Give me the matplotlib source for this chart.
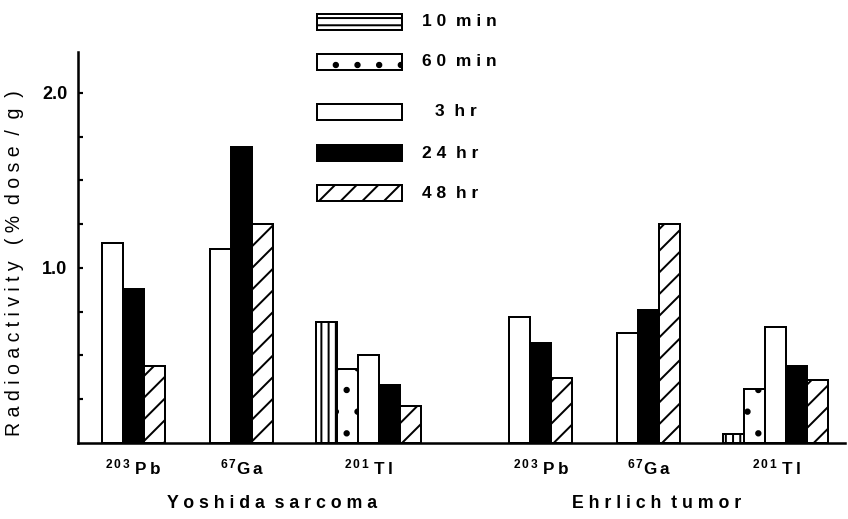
import numpy as np
import matplotlib
matplotlib.use("Agg")
import matplotlib.pyplot as plt
from matplotlib.patches import Rectangle

# ---- data ----
times = ["10 min", "60 min", "3 hr", "24 hr", "48 hr"]
groups = [r"$\mathrm{^{2\,0\,3}\;P\,b}$", r"$\mathrm{^{6\,7}G\,a}$", r"$\mathrm{^{2\,0\,1}\;T\,l}$",
          r"$\mathrm{^{2\,0\,3}\;P\,b}$", r"$\mathrm{^{6\,7}G\,a}$", r"$\mathrm{^{2\,0\,1}\;T\,l}$"]
tumors = ["Yoshida sarcoma", "Ehrlich tumor"]
nan = np.nan
v10min = [nan, nan, 0.69, nan, nan, 0.05]
v60min = [nan, nan, 0.42, nan, nan, 0.31]
v3hr = [1.14, 1.11, 0.50, 0.72, 0.63, 0.66]
v24hr = [0.88, 1.69, 0.33, 0.57, 0.76, 0.44]
v48hr = [0.44, 1.25, 0.21, 0.37, 1.25, 0.36]
series = [v10min, v60min, v3hr, v24hr, v48hr]

# ---- layout / style ----
group_pos = [55, 163.5, 290.5, 462.5, 570.5, 698]
tumor_pos = [194, 579]
bar_w = 21
styles = [
    dict(facecolor="white", hatch="|||"),
    dict(facecolor="white", hatch="."),
    dict(facecolor="white", hatch=None),
    dict(facecolor="black", hatch=None),
    dict(facecolor="white", hatch="//"),
]
legend_hatch = ["---", ".", None, None, "//"]
legend_text_x = [422, 422, 435, 422, 422]

plt.rcParams["font.family"] = ["Liberation Sans", "DejaVu Sans"]
plt.rcParams["font.weight"] = "bold"
plt.rcParams["mathtext.fontset"] = "custom"
plt.rcParams["mathtext.rm"] = "Liberation Sans:bold"
plt.rcParams["hatch.linewidth"] = 1.1

DPI = 130
W, H = 848, 519
fig = plt.figure(figsize=(W / DPI, H / DPI), dpi=DPI)
ax = fig.add_axes([78 / W, 1 - 443 / H, 767 / W, (443 - 52) / H])

for gi, gx in enumerate(group_pos):
    present = [si for si in range(len(series)) if not np.isnan(series[si][gi])]
    n = len(present)
    for k, si in enumerate(present):
        x = gx + (k - (n - 1) / 2) * bar_w
        ax.bar(x, series[si][gi], width=bar_w, edgecolor="black",
               linewidth=1.1, **styles[si])

ax.set_xlim(0, 767)
ax.set_ylim(0, 2.234)
ax.set_yticks([1.0, 2.0])
ax.set_yticklabels(["1.0", "2.0"])
ax.set_yticks(np.arange(0.25, 2.01, 0.25), minor=True)
ax.tick_params(axis="y", which="both", direction="in", length=3, width=1.2,
               labelsize=10, pad=6)
ax.set_xticks(group_pos)
ax.set_xticklabels(groups, fontsize=9.5)
ax.tick_params(axis="x", length=0, pad=8)
for s in ["top", "right"]:
    ax.spines[s].set_visible(False)
for s in ["left", "bottom"]:
    ax.spines[s].set_linewidth(1.4)

ax.set_ylabel("R a d i o a c t i v i t y   ( %  d o s e  /  g  )", fontsize=10.8)
ax.yaxis.set_label_coords((24 - 78) / 767, (443 - 263) / 391)

for t, tx in zip(tumors, tumor_pos):
    spaced = "  ".join(" ".join(w) for w in t.split())
    fig.text((78 + tx) / W, 1 - 503 / H, spaced, ha="center", va="center",
             fontsize=9.8)

# legend
leg_y = [22, 62, 112, 153, 193]
for i, (lab, yc) in enumerate(zip(times, leg_y)):
    st = styles[i]
    fig.add_artist(Rectangle((317 / W, 1 - (yc + 8) / H), 85 / W, 16 / H,
                             transform=fig.transFigure, facecolor=st["facecolor"],
                             edgecolor="black", linewidth=1.1,
                             hatch=legend_hatch[i]))
    num, unit = lab.split()
    txt = " ".join(num) + "  " + " ".join(unit)
    fig.text(legend_text_x[i] / W, 1 - yc / H, txt, ha="left", va="center",
             fontsize=9.6)

fig.savefig("out.png", dpi=DPI)
